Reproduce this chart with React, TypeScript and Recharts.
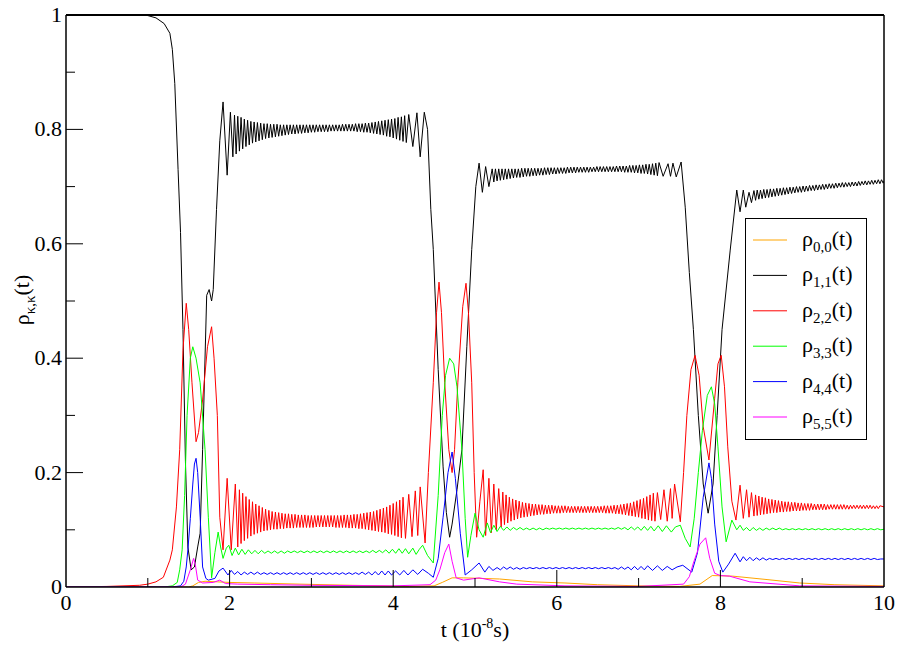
import { LineChart, Line, XAxis, YAxis } from "recharts";

type Pt = [number, number];

// tick values
const xTicks = [0, 1, 2, 3, 4, 5, 6, 7, 8, 9, 10];
const xMajor = [0, 2, 4, 6, 8, 10];
const yTicks = [0, 0.1, 0.2, 0.3, 0.4, 0.5, 0.6, 0.7, 0.8, 0.9, 1];
const yMajor = [0, 0.2, 0.4, 0.6, 0.8, 1];

// rho_0,0 (orange)
const rho00: Pt[] = [
  [0, 0], [1.5, 0], [1.55, 0.002], [1.62, 0.008], [1.7, 0.01], [1.85, 0.009], [2.0, 0.008],
  [2.3, 0.007], [2.86, 0.005], [3.5, 0.003], [4.2, 0.001], [4.5, 0.002], [4.6, 0.008],
  [4.72, 0.016], [4.86, 0.016], [5.3, 0.014], [5.7, 0.009], [6.1, 0.007], [6.5, 0.004],
  [7.0, 0.002], [7.5, 0.001], [7.75, 0.005], [7.9, 0.02], [8.15, 0.019], [8.57, 0.013],
  [8.97, 0.007], [9.4, 0.004], [10, 0.002],
];

// rho_1,1 (black): transitions
const rho11Parts: Pt[] = [
  [0, 1], [0.9, 1], [1.0, 0.999], [1.1, 0.995], [1.2, 0.985], [1.27, 0.968], [1.3, 0.94],
  [1.33, 0.88], [1.37, 0.73], [1.4, 0.62], [1.43, 0.45], [1.46, 0.22], [1.49, 0.07],
  [1.53, 0.03], [1.57, 0.035], [1.61, 0.07], [1.64, 0.094], [1.67, 0.24], [1.72, 0.51],
  [1.75, 0.52], [1.78, 0.5], [1.8, 0.52], [1.84, 0.66], [1.88, 0.78], [1.92, 0.848],
  [1.97, 0.72], [2.01, 0.83],
  [4.19, 0.826], [4.24, 0.77], [4.29, 0.829], [4.33, 0.752], [4.38, 0.83], [4.42, 0.8],
  [4.46, 0.66], [4.49, 0.59], [4.55, 0.38], [4.61, 0.21], [4.65, 0.13], [4.69, 0.087],
  [4.72, 0.11], [4.78, 0.17], [4.84, 0.24], [4.9, 0.42], [4.96, 0.59], [5.01, 0.7],
  [5.05, 0.741], [5.09, 0.69], [5.13, 0.735], [5.17, 0.7],
  [7.3, 0.718], [7.36, 0.74], [7.39, 0.718], [7.42, 0.741], [7.46, 0.717], [7.52, 0.743],
  [7.57, 0.664], [7.62, 0.55], [7.67, 0.45], [7.73, 0.3], [7.79, 0.18], [7.85, 0.129],
  [7.91, 0.18], [7.96, 0.3], [8.02, 0.45], [8.12, 0.589], [8.2, 0.694], [8.24, 0.656],
  [8.28, 0.694], [8.31, 0.664], [8.35, 0.69], [8.38, 0.672], [10, 0.71],
];
// rho_1,1 fast oscillation, sampled every 0.02
const rho11BandA = [
  0.752, 0.825, 0.757, 0.823, 0.762, 0.821, 0.766, 0.818, 0.77, 0.816, 0.773, 0.814, 0.776, 0.813,
  0.778, 0.812, 0.78, 0.811, 0.782, 0.81, 0.784, 0.81, 0.785, 0.809, 0.786, 0.809, 0.787, 0.809,
  0.788, 0.808, 0.789, 0.808, 0.79, 0.808, 0.791, 0.808, 0.792, 0.808, 0.792, 0.808, 0.793, 0.808,
  0.793, 0.808, 0.794, 0.808, 0.794, 0.808, 0.795, 0.808, 0.795, 0.808, 0.796, 0.808, 0.796, 0.808,
  0.796, 0.808, 0.796, 0.808, 0.797, 0.808, 0.797, 0.808, 0.797, 0.808, 0.797, 0.809, 0.797, 0.809,
  0.797, 0.809, 0.797, 0.809, 0.797, 0.81, 0.796, 0.81, 0.796, 0.81, 0.795, 0.811, 0.795, 0.811,
  0.794, 0.812, 0.793, 0.813, 0.792, 0.814, 0.791, 0.815, 0.79, 0.816, 0.788, 0.817, 0.787, 0.818,
  0.785, 0.819, 0.783, 0.821, 0.781, 0.822, 0.779, 0.824, 0.777,
];
const rho11BandB = [
  0.731, 0.708, 0.731, 0.71, 0.731, 0.711, 0.731, 0.712, 0.731, 0.713, 0.731, 0.714, 0.731, 0.715,
  0.731, 0.716, 0.731, 0.716, 0.732, 0.717, 0.732, 0.718, 0.732, 0.718, 0.732, 0.719, 0.732, 0.719,
  0.732, 0.72, 0.732, 0.72, 0.733, 0.721, 0.733, 0.721, 0.733, 0.722, 0.733, 0.722, 0.733, 0.723,
  0.733, 0.723, 0.733, 0.723, 0.734, 0.724, 0.734, 0.724, 0.734, 0.724, 0.734, 0.725, 0.734, 0.725,
  0.734, 0.725, 0.734, 0.725, 0.734, 0.726, 0.734, 0.726, 0.735, 0.726, 0.735, 0.726, 0.735, 0.726,
  0.735, 0.726, 0.735, 0.726, 0.735, 0.726, 0.736, 0.726, 0.736, 0.726, 0.736, 0.725, 0.736, 0.725,
  0.737, 0.725, 0.737, 0.724, 0.737, 0.724, 0.738, 0.723, 0.738, 0.723, 0.739, 0.722, 0.739, 0.721,
  0.74, 0.72, 0.741, 0.719, 0.742,
];
const rho11BandC = [
  0.693, 0.676, 0.694, 0.678, 0.694, 0.679, 0.695, 0.68, 0.695, 0.681, 0.696, 0.682, 0.696, 0.683,
  0.697, 0.684, 0.697, 0.685, 0.698, 0.686, 0.698, 0.687, 0.699, 0.688, 0.699, 0.689, 0.7, 0.69,
  0.7, 0.69, 0.701, 0.691, 0.701, 0.692, 0.702, 0.693, 0.702, 0.693, 0.703, 0.694, 0.703, 0.695,
  0.704, 0.695, 0.704, 0.696, 0.705, 0.697, 0.705, 0.697, 0.706, 0.698, 0.706, 0.699, 0.707, 0.699,
  0.707, 0.7, 0.707, 0.7, 0.708, 0.701, 0.708, 0.701, 0.709, 0.702, 0.709, 0.703, 0.71, 0.703,
  0.71, 0.704, 0.711, 0.704, 0.711, 0.705, 0.712, 0.705, 0.712, 0.706,
];

// rho_2,2 (red)
const rho22Parts: Pt[] = [
  [0, 0], [0.5, 0.001], [0.9, 0.003], [1.0, 0.005], [1.1, 0.009], [1.19, 0.017], [1.27, 0.047],
  [1.3, 0.065], [1.35, 0.14], [1.39, 0.24], [1.43, 0.414], [1.47, 0.496], [1.5, 0.45],
  [1.54, 0.357], [1.59, 0.254], [1.62, 0.27], [1.67, 0.327], [1.73, 0.42], [1.78, 0.455],
  [1.81, 0.4], [1.85, 0.3], [1.88, 0.122], [1.92, 0.065], [1.97, 0.19], [2.02, 0.065], [2.07, 0.18],
  [4.15, 0.085], [4.19, 0.162], [4.23, 0.088], [4.27, 0.168], [4.3, 0.09], [4.33, 0.175],
  [4.39, 0.077], [4.43, 0.2], [4.49, 0.357], [4.53, 0.48], [4.56, 0.533], [4.59, 0.48],
  [4.63, 0.357], [4.68, 0.24], [4.72, 0.2], [4.75, 0.24], [4.79, 0.357], [4.85, 0.49],
  [4.89, 0.531], [4.92, 0.48], [4.96, 0.357], [4.99, 0.2], [5.02, 0.087], [5.06, 0.15],
  [5.1, 0.205], [5.13, 0.09], [5.17, 0.19], [5.2, 0.095], [5.23, 0.18], [5.26, 0.1], [5.29, 0.172],
  [7.23, 0.165], [7.27, 0.118], [7.31, 0.17], [7.35, 0.115], [7.39, 0.172], [7.41, 0.12],
  [7.44, 0.18], [7.51, 0.114], [7.55, 0.2], [7.59, 0.3], [7.64, 0.38], [7.69, 0.405], [7.74, 0.37],
  [7.79, 0.28], [7.86, 0.222], [7.93, 0.33], [7.97, 0.39], [8.01, 0.405], [8.05, 0.35],
  [8.09, 0.245], [8.14, 0.15], [8.19, 0.117], [8.24, 0.178], [8.28, 0.12], [8.32, 0.17],
  [8.35, 0.122], [8.38, 0.165], [10, 0.14],
];
const rho22BandA = [
  0.07, 0.17, 0.076, 0.164, 0.081, 0.158, 0.085, 0.153, 0.089, 0.149, 0.092, 0.145, 0.094, 0.142,
  0.096, 0.139, 0.098, 0.136, 0.099, 0.134, 0.1, 0.132, 0.101, 0.131, 0.101, 0.13, 0.102, 0.129,
  0.102, 0.128, 0.103, 0.128, 0.103, 0.127, 0.103, 0.127, 0.104, 0.126, 0.104, 0.126, 0.104, 0.126,
  0.104, 0.125, 0.104, 0.125, 0.104, 0.125, 0.105, 0.125, 0.105, 0.125, 0.105, 0.125, 0.105, 0.125,
  0.105, 0.125, 0.105, 0.125, 0.104, 0.125, 0.104, 0.125, 0.104, 0.126, 0.104, 0.126, 0.103, 0.126,
  0.103, 0.127, 0.103, 0.127, 0.102, 0.128, 0.102, 0.129, 0.101, 0.13, 0.1, 0.131, 0.099, 0.132,
  0.098, 0.134, 0.097, 0.136, 0.096, 0.138, 0.095, 0.14, 0.093, 0.143, 0.092, 0.146, 0.09, 0.149,
  0.088, 0.152, 0.086, 0.157,
];
const rho22BandB = [
  0.105, 0.166, 0.109, 0.161, 0.112, 0.157, 0.115, 0.154, 0.117, 0.152, 0.119, 0.15, 0.121, 0.148,
  0.122, 0.147, 0.123, 0.146, 0.124, 0.145, 0.125, 0.145, 0.126, 0.144, 0.127, 0.144, 0.127, 0.143,
  0.128, 0.143, 0.128, 0.143, 0.129, 0.142, 0.129, 0.142, 0.129, 0.142, 0.13, 0.142, 0.13, 0.141,
  0.13, 0.141, 0.13, 0.141, 0.13, 0.141, 0.13, 0.141, 0.13, 0.141, 0.13, 0.141, 0.13, 0.141,
  0.13, 0.141, 0.13, 0.141, 0.13, 0.141, 0.13, 0.142, 0.129, 0.142, 0.129, 0.142, 0.129, 0.143,
  0.128, 0.143, 0.128, 0.144, 0.127, 0.145, 0.126, 0.146, 0.125, 0.147, 0.124, 0.149, 0.123, 0.151,
  0.122, 0.153, 0.12, 0.155, 0.119, 0.158, 0.117, 0.161, 0.116, 0.164, 0.115,
];
const rho22BandC = [
  0.124, 0.161, 0.125, 0.159, 0.126, 0.157, 0.127, 0.156, 0.128, 0.154, 0.129, 0.153, 0.13, 0.152,
  0.13, 0.151, 0.131, 0.15, 0.131, 0.149, 0.132, 0.149, 0.132, 0.148, 0.133, 0.148, 0.133, 0.147,
  0.133, 0.147, 0.134, 0.146, 0.134, 0.146, 0.134, 0.146, 0.135, 0.145, 0.135, 0.145, 0.135, 0.145,
  0.135, 0.145, 0.135, 0.144, 0.136, 0.144, 0.136, 0.144, 0.136, 0.144, 0.136, 0.144, 0.136, 0.144,
  0.136, 0.143, 0.136, 0.143, 0.137, 0.143, 0.137, 0.143, 0.137, 0.143, 0.137, 0.143, 0.137, 0.143,
  0.137, 0.143, 0.137, 0.142, 0.137, 0.142, 0.137, 0.142,
];

// rho_3,3 (green)
const rho33Parts: Pt[] = [
  [0, 0], [1.2, 0], [1.3, 0.002], [1.36, 0.008], [1.39, 0.03], [1.42, 0.065], [1.45, 0.16],
  [1.48, 0.3], [1.52, 0.4], [1.55, 0.42], [1.59, 0.4], [1.64, 0.357], [1.7, 0.24], [1.74, 0.122],
  [1.78, 0.016], [1.82, 0.06], [1.86, 0.096], [1.89, 0.07], [1.92, 0.05], [1.96, 0.068],
  [1.99, 0.073], [2.03, 0.055], [2.07, 0.068], [2.11, 0.056], [2.15, 0.066],
  [4.19, 0.058], [4.24, 0.068], [4.28, 0.057], [4.32, 0.066], [4.36, 0.073], [4.42, 0.055],
  [4.49, 0.042], [4.55, 0.16], [4.6, 0.3], [4.64, 0.37], [4.69, 0.4], [4.74, 0.39], [4.78, 0.35],
  [4.84, 0.24], [4.88, 0.12], [4.91, 0.052], [4.95, 0.09], [5.0, 0.129], [5.05, 0.1], [5.1, 0.087],
  [5.15, 0.112], [5.19, 0.095], [5.23, 0.108], [5.27, 0.097],
  [7.24, 0.107], [7.29, 0.097], [7.34, 0.107], [7.4, 0.096], [7.45, 0.105], [7.51, 0.108],
  [7.57, 0.085], [7.63, 0.07], [7.68, 0.12], [7.73, 0.2], [7.78, 0.274], [7.84, 0.335],
  [7.89, 0.35], [7.93, 0.32], [7.97, 0.245], [8.02, 0.14], [8.07, 0.079], [8.14, 0.117],
  [8.2, 0.1], [8.24, 0.108], [8.28, 0.099], [8.32, 0.104], [10, 0.101],
];
const rho33BandA = [
  0.057, 0.065, 0.058, 0.064, 0.058, 0.064, 0.059, 0.063, 0.059, 0.063, 0.059, 0.063, 0.059, 0.063,
  0.06, 0.063, 0.06, 0.063, 0.06, 0.063, 0.06, 0.063, 0.06, 0.063, 0.06, 0.063, 0.06, 0.063,
  0.06, 0.063, 0.06, 0.063, 0.06, 0.063, 0.06, 0.063, 0.06, 0.063, 0.06, 0.064, 0.06, 0.064,
  0.06, 0.065, 0.059, 0.066, 0.059, 0.067, 0.059, 0.067,
];
const rho33BandB = [
  0.106, 0.099, 0.105, 0.099, 0.104, 0.1, 0.104, 0.1, 0.103, 0.1, 0.103, 0.1, 0.103, 0.1,
  0.103, 0.101, 0.103, 0.101, 0.103, 0.101, 0.103, 0.101, 0.103, 0.101, 0.103, 0.101, 0.103, 0.101,
  0.103, 0.101, 0.103, 0.101, 0.103, 0.101, 0.103, 0.101, 0.104, 0.101, 0.104, 0.1, 0.105, 0.1,
  0.105, 0.099, 0.106, 0.099, 0.106, 0.098,
];
const rho33BandC = [
  0.098, 0.104, 0.099, 0.103, 0.099, 0.103, 0.1, 0.103, 0.1, 0.103, 0.1, 0.102, 0.1, 0.102,
  0.1, 0.102, 0.1, 0.102, 0.1, 0.102, 0.1, 0.102, 0.1, 0.102, 0.1, 0.102, 0.1, 0.102,
  0.1, 0.102, 0.1, 0.102, 0.1, 0.102, 0.1, 0.102, 0.1, 0.102, 0.1, 0.102, 0.1,
];

// rho_4,4 (blue)
const rho44Parts: Pt[] = [
  [0, 0], [1.3, 0], [1.4, 0.002], [1.44, 0.01], [1.47, 0.035], [1.49, 0.065], [1.52, 0.12],
  [1.55, 0.18], [1.57, 0.215], [1.59, 0.225], [1.61, 0.2], [1.64, 0.122], [1.67, 0.035],
  [1.71, 0.015], [1.74, 0.012], [1.82, 0.015], [1.87, 0.028], [1.92, 0.033], [1.98, 0.021],
  [2.02, 0.029], [2.06, 0.022],
  [4.03, 0.028], [4.08, 0.021], [4.13, 0.029], [4.18, 0.021], [4.24, 0.03], [4.3, 0.022],
  [4.36, 0.031], [4.43, 0.024], [4.49, 0.017], [4.55, 0.05], [4.61, 0.122], [4.67, 0.2],
  [4.72, 0.236], [4.76, 0.19], [4.82, 0.094], [4.88, 0.021], [4.96, 0.03], [5.05, 0.042],
  [5.12, 0.026], [5.17, 0.036], [5.22, 0.029], [5.27, 0.034],
  [7.17, 0.029], [7.23, 0.037], [7.29, 0.029], [7.35, 0.036], [7.41, 0.03], [7.47, 0.035],
  [7.54, 0.038], [7.65, 0.026], [7.72, 0.06], [7.79, 0.157], [7.86, 0.217], [7.89, 0.19],
  [7.93, 0.11], [7.98, 0.045], [8.03, 0.026], [8.1, 0.04], [8.18, 0.059], [8.24, 0.044],
  [8.28, 0.053], [8.32, 0.046], [10, 0.049],
];
const rho44BandA = [
  0.027, 0.021, 0.026, 0.022, 0.026, 0.022, 0.026, 0.022, 0.025, 0.022, 0.025, 0.022, 0.025, 0.022,
  0.025, 0.022, 0.025, 0.022, 0.025, 0.022, 0.025, 0.022, 0.025, 0.022, 0.025, 0.022, 0.025, 0.022,
  0.025, 0.022, 0.025, 0.022, 0.025, 0.022, 0.025, 0.022, 0.025, 0.022, 0.026, 0.022, 0.026, 0.021,
  0.027, 0.021, 0.028, 0.021, 0.028, 0.021,
];
const rho44BandB = [
  0.03, 0.035, 0.031, 0.035, 0.031, 0.034, 0.031, 0.034, 0.032, 0.034, 0.032, 0.034, 0.032, 0.034,
  0.032, 0.034, 0.032, 0.034, 0.032, 0.034, 0.032, 0.034, 0.032, 0.034, 0.032, 0.034, 0.032, 0.034,
  0.032, 0.034, 0.032, 0.034, 0.032, 0.034, 0.032, 0.034, 0.031, 0.035, 0.031, 0.035, 0.03, 0.036,
  0.03, 0.036, 0.03, 0.037,
];
const rho44BandC = [
  0.052, 0.046, 0.051, 0.047, 0.051, 0.047, 0.05, 0.048, 0.05, 0.048, 0.05, 0.048, 0.05, 0.048,
  0.05, 0.048, 0.05, 0.048, 0.05, 0.048, 0.05, 0.048, 0.05, 0.048, 0.05, 0.048, 0.05, 0.048,
  0.05, 0.048, 0.05, 0.048, 0.05, 0.048, 0.05, 0.048, 0.05, 0.048, 0.05, 0.048, 0.049,
];

// rho_5,5 (magenta)
const rho55: Pt[] = [
  [0, 0], [1.4, 0], [1.46, 0.005], [1.52, 0.03], [1.56, 0.05], [1.58, 0.04], [1.61, 0.012],
  [1.67, 0.007], [1.8, 0.008], [1.88, 0.012], [1.95, 0.006], [2.1, 0.005], [2.5, 0.004],
  [3.0, 0.003], [4.0, 0.002], [4.45, 0.004], [4.52, 0.012], [4.57, 0.03], [4.63, 0.06],
  [4.68, 0.075], [4.72, 0.045], [4.77, 0.016], [4.86, 0.012], [5.05, 0.016], [5.3, 0.009],
  [5.51, 0.005], [6.1, 0.002], [7.0, 0.001], [7.55, 0.005], [7.62, 0.018], [7.67, 0.042],
  [7.75, 0.075], [7.82, 0.086], [7.87, 0.05], [7.93, 0.024], [8.0, 0.02], [8.11, 0.019],
  [8.36, 0.009], [8.97, 0.002], [10, 0.001],
];

// oscillation bands are sampled on a regular time grid
function band(t0: number, step: number, vals: number[]): Pt[] {
  return vals.map((v, i) => [Math.round((t0 + i * step) * 1000) / 1000, v] as Pt);
}

function toSeries(...parts: Pt[][]) {
  return parts
    .flat()
    .sort((a, b) => a[0] - b[0])
    .map(([t, v]) => ({ t, v }));
}

const series = [
  { key: "0,0", color: "#FFA500", data: toSeries(rho00) },
  {
    key: "1,1",
    color: "#000000",
    data: toSeries(rho11Parts, band(2.04, 0.02, rho11BandA), band(5.21, 0.02, rho11BandB), band(8.41, 0.02, rho11BandC)),
  },
  {
    key: "2,2",
    color: "#FF0000",
    data: toSeries(rho22Parts, band(2.1, 0.02, rho22BandA), band(5.32, 0.02, rho22BandB), band(8.41, 0.02, rho22BandC)),
  },
  {
    key: "3,3",
    color: "#00FF00",
    data: toSeries(rho33Parts, band(2.19, 0.04, rho33BandA), band(5.31, 0.04, rho33BandB), band(8.36, 0.04, rho33BandC)),
  },
  {
    key: "4,4",
    color: "#0000FF",
    data: toSeries(rho44Parts, band(2.1, 0.04, rho44BandA), band(5.31, 0.04, rho44BandB), band(8.36, 0.04, rho44BandC)),
  },
  { key: "5,5", color: "#FF00FF", data: toSeries(rho55) },
];

const FONT = '"Liberation Serif", "Times New Roman", serif';
const txt = { fontFamily: FONT };
const MAJOR = 17;
const MINOR = 9;

const near = (list: number[], v: number) => list.some((m) => Math.abs(m - v) < 1e-6);
const fmtY = (v: number) => (v === 0 || v === 1 ? String(v) : v.toFixed(1));

function BottomTick(props: any) {
  const { x, y, payload } = props;
  const v = payload.value;
  const major = near(xMajor, v);
  return (
    <g>
      {v > 0 && v < 10 && <line x1={x} x2={x} y1={y} y2={y - (major ? MAJOR : MINOR)} stroke="#000" />}
      {major && (
        <text x={x} y={y + 23} textAnchor="middle" fontSize={22} style={txt} fill="#000">
          {v}
        </text>
      )}
    </g>
  );
}

function TopTick(props: any) {
  const { x, y, payload } = props;
  const v = payload.value;
  const major = near(xMajor, v);
  if (v <= 0 || v >= 10) return <g />;
  return <line x1={x} x2={x} y1={y} y2={y + (major ? MAJOR : MINOR)} stroke="#000" />;
}

function LeftTick(props: any) {
  const { x, y, payload } = props;
  const v = payload.value;
  const major = near(yMajor, v);
  return (
    <g>
      {v > 0 && v < 1 && <line x1={x} x2={x + (major ? MAJOR : MINOR)} y1={y} y2={y} stroke="#000" />}
      {major && (
        <text x={x - 4} y={y + 7} textAnchor="end" fontSize={22} style={txt} fill="#000">
          {fmtY(v)}
        </text>
      )}
    </g>
  );
}

function RightTick(props: any) {
  const { x, y, payload } = props;
  const v = payload.value;
  const major = near(yMajor, v);
  if (v <= 0 || v >= 1) return <g />;
  return <line x1={x} x2={x - (major ? MAJOR : MINOR)} y1={y} y2={y} stroke="#000" />;
}

export default function App() {
  const axisLine = { stroke: "#000", strokeWidth: 1.5 };
  return (
    <div style={{ position: "absolute", left: 0, top: 0, width: 897, height: 645, background: "#fff" }}>
      <LineChart width={897} height={645} margin={{ top: 5, right: 3, bottom: 0, left: 0 }}>
        <XAxis
          dataKey="t"
          type="number"
          domain={[0, 10]}
          ticks={xTicks}
          interval={0}
          height={58}
          tickSize={0}
          tickMargin={0}
          tickLine={false}
          axisLine={axisLine}
          tick={(p: any) => <BottomTick {...p} />}
          allowDataOverflow
        />
        <XAxis
          xAxisId="top"
          orientation="top"
          type="number"
          domain={[0, 10]}
          ticks={xTicks}
          interval={0}
          height={10}
          tickSize={0}
          tickMargin={0}
          tickLine={false}
          axisLine={{ stroke: "#000", strokeWidth: 2 }}
          tick={(p: any) => <TopTick {...p} />}
        />
        <YAxis
          type="number"
          domain={[0, 1]}
          ticks={yTicks}
          interval={0}
          width={66}
          tickSize={0}
          tickMargin={0}
          tickLine={false}
          axisLine={axisLine}
          tick={(p: any) => <LeftTick {...p} />}
          allowDataOverflow
        />
        <YAxis
          yAxisId="right"
          orientation="right"
          type="number"
          domain={[0, 1]}
          ticks={yTicks}
          interval={0}
          width={10}
          tickSize={0}
          tickMargin={0}
          tickLine={false}
          axisLine={axisLine}
          tick={(p: any) => <RightTick {...p} />}
        />
        {series.map((s) => (
          <Line
            key={s.key}
            data={s.data}
            dataKey="v"
            type="linear"
            stroke={s.color}
            strokeWidth={1}
            dot={false}
            activeDot={false}
            isAnimationActive={false}
          />
        ))}
      </LineChart>
      <svg
        width={897}
        height={645}
        style={{ position: "absolute", left: 0, top: 0, pointerEvents: "none", fontFamily: FONT }}
      >
        <text x={475} y={637} textAnchor="middle" fontSize={22} fill="#000" style={txt}>
          t (10
          <tspan dy={-9} fontSize={14}>-8</tspan>
          <tspan dy={9}>s)</tspan>
        </text>
        <text transform="translate(29,300) rotate(-90)" textAnchor="middle" fontSize={22} fill="#000" style={txt}>
          ρ
          <tspan dy={6} fontSize={15}>κ,κ</tspan>
          <tspan dy={-6}>(t)</tspan>
        </text>
        <rect x={745.5} y={218.5} width={121} height={221} fill="#fff" stroke="#000" strokeWidth={1} />
        {series.map((s, i) => {
          const cy = 240 + i * 35.4;
          return (
            <g key={s.key}>
              <line x1={753} x2={787} y1={cy} y2={cy} stroke={s.color} strokeWidth={1} />
              <text x={802} y={cy + 6} fontSize={22} fill="#000" style={txt}>
                ρ
                <tspan dy={6} fontSize={15}>{s.key}</tspan>
                <tspan dy={-6}>(t)</tspan>
              </text>
            </g>
          );
        })}
      </svg>
    </div>
  );
}
